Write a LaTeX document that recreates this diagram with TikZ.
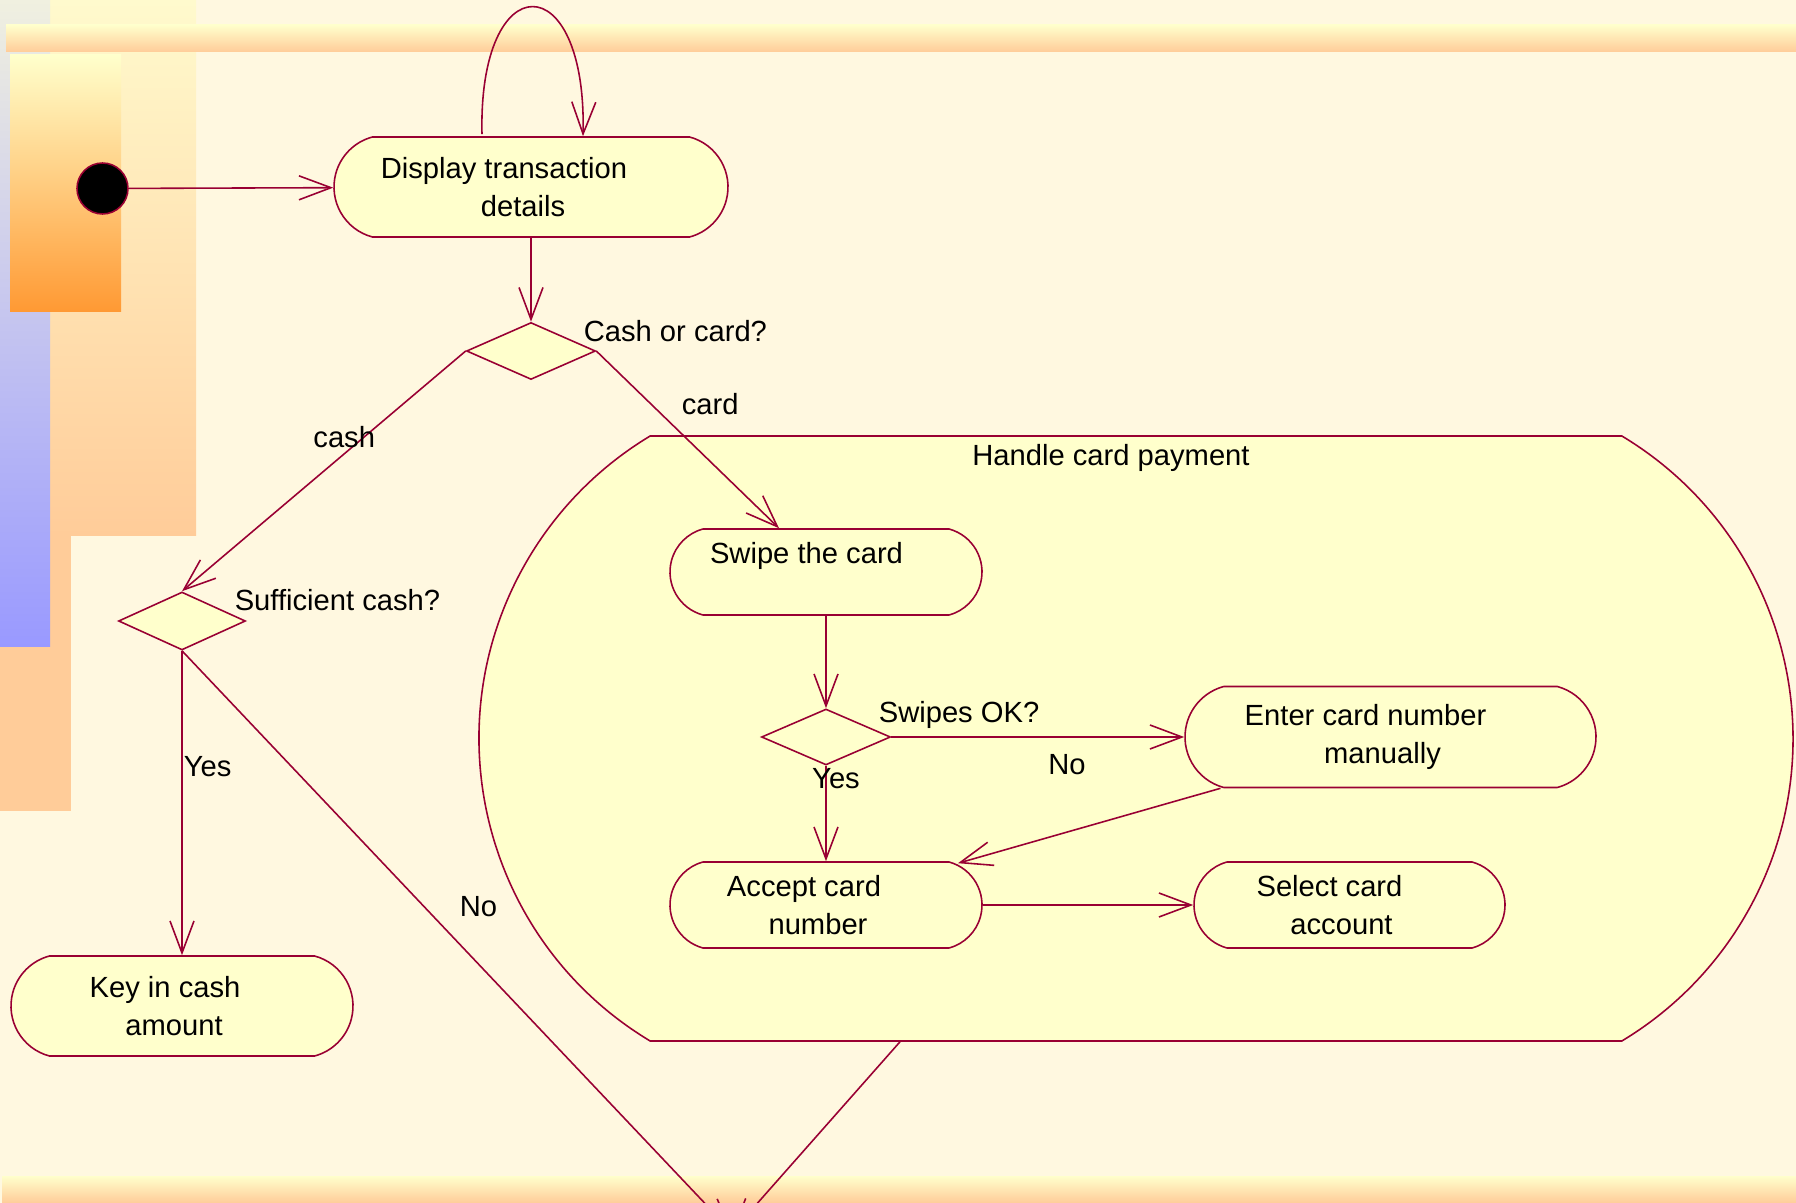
\documentclass[tikz,border=0pt]{standalone}
\usepackage{fontspec}
\setmainfont{Liberation Sans}
\usetikzlibrary{arrows.meta,positioning,calc,shapes.misc,shapes.geometric}
\definecolor{ink}{RGB}{0,0,0}
\definecolor{wire}{RGB}{153,0,51}
\definecolor{paper}{RGB}{255,248,224}
\definecolor{cream}{RGB}{255,255,204}
\definecolor{peach}{RGB}{255,204,153}
\definecolor{pale}{RGB}{255,250,205}
\definecolor{amber}{RGB}{255,153,51}
\definecolor{mist}{RGB}{240,240,224}
\definecolor{lilac}{RGB}{153,153,255}
\newcommand{\twolines}[3][4.4mm]{#2\hspace*{#1}\\#3\hspace*{1.6mm}}
\tikzset{
  every picture/.style={line width=0.45pt, font=\fontsize{8.3}{10.8}\selectfont},
  act/.style={rounded rectangle, rounded rectangle arc length=150, draw=wire, fill=cream, inner sep=0pt, align=center},
  choice/.style={diamond, draw=wire, fill=cream, inner sep=0pt, minimum width=12.9mm, minimum height=5.7mm},
  startdot/.style={circle, draw=wire, fill=black, inner sep=0pt, minimum size=5.1mm},
  flow/.style={-{Straight Barb[length=3.2mm,width=2.4mm]}, draw=wire},
  lbl/.style={text=ink, inner sep=0pt},
}

\begin{document}
\begin{tikzpicture}[x=0.1mm, y=-0.1mm]
  \useasboundingbox (0,0) rectangle (1796,1203);
  \clip (0,0) rectangle (1796,1203);
  \fill[paper] (0,0) rectangle (1796,1203);
  \fill[peach] (0,0) rectangle (71,811);
  \shade[top color=pale, bottom color=peach] (50,0) rectangle (196,536);
  \shade[top color=mist, bottom color=lilac] (0,0) rectangle (50,647);
  \shade[top color=cream, bottom color=amber] (10,55) rectangle (121,312);
  \shade[top color=cream, bottom color=peach] (6,25) rectangle (1796,52);
  \shade[top color=cream, bottom color=peach] (2,1176) rectangle (1796,1203);

  \node[startdot] (init) at (102.5,188.5) {};
  \node[act, minimum width=39.4mm, minimum height=10mm] (disp) at (531,187) {\twolines[5.4mm]{Display transaction}{details}};
  \node[choice] (cc) at (531,351) {};
  \node[lbl, anchor=west] (cclbl) at (583,331) {Cash or card?};
  \node[choice, minimum width=12.7mm, minimum height=5.8mm] (sc) at (182,621) {};
  \node[lbl, anchor=west] (sclbl) at (234,600) {Sufficient cash?};
  \node[act, minimum width=34.2mm, minimum height=10mm] (key) at (182,1006) {\twolines[3.4mm]{Key in cash}{amount}};

  \node[act, rounded rectangle arc length=118, minimum width=131.4mm, minimum height=60.5mm] (handle) at (1136,738.5) {};
  \node[lbl, anchor=north] (hcp) at ($(handle.north)+(-25,8)$) {Handle card payment};
  \node[act, minimum width=31.2mm, minimum height=8.6mm] (swipe) at (826,572) {Swipe the card\hspace*{3.9mm}\\ ~};
  \node[choice, minimum height=5.6mm] (so) at (826,737) {};
  \node[lbl, anchor=west] (solbl) at (878,715) {Swipes OK?};
  \node[act, minimum width=41.1mm, minimum height=10.1mm] (enter) at (1390.5,737) {\twolines[5mm]{Enter card number}{manually}};
  \node[act, minimum width=31.2mm, minimum height=8.6mm] (accept) at (826,905) {\twolines{Accept card}{number}};
  \node[act, minimum width=31.1mm, minimum height=8.6mm] (select) at (1349.5,905) {\twolines[4mm]{Select card}{account}};
  \coordinate (merge) at (732,1232);

  \draw[flow] (init) -- (disp);
  \draw[flow] ($(disp.north)+(-49,-2)$) .. controls ($(disp.north)+(-53,-172)$) and ($(disp.north)+(56,-172)$) .. ($(disp.north)+(52,0)$);
  \draw[flow] (disp) -- (cc);
  \draw[flow] (cc.west) -- node[lbl, pos=0.4, anchor=base, xshift=-0.8mm] {cash} (sc.north);
  \draw[flow] (cc.east) -- node[lbl, pos=0.3, right=3mm] {card} ($(swipe.north)+(-47,0)$);
  \draw[flow] (sc.south) -- node[lbl, pos=0.38, right=0.1mm] {Yes} (key.north);
  \draw[flow] (sc.south) -- node[lbl, pos=0.44, right=3.5mm] {No} (merge);
  \draw[flow] (swipe) -- (so);
  \draw[flow] (so.east) -- node[lbl, pos=0.6, below=1.7mm] {No} (enter.west);
  \draw[flow] (so.south) -- node[lbl, pos=0.02, anchor=north, xshift=1mm] {Yes} (accept.north);
  \draw[flow] ($(enter.south)+(-170,0)$) -- ($(accept.north)+(132,2)$);
  \draw[flow] (accept) -- (select);
  \draw[flow] ($(handle.south)+(-236,0)$) -- (merge);
\end{tikzpicture}
\end{document}
